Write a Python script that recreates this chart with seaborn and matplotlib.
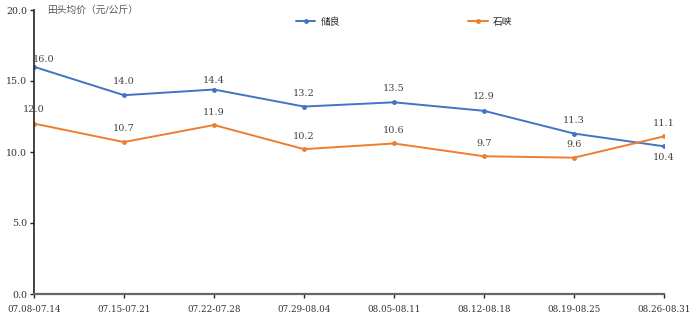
import matplotlib
matplotlib.use("Agg")
import matplotlib.pyplot as plt
import seaborn as sns
import pandas as pd

weeks = ["07.08-07.14", "07.15-07.21", "07.22-07.28", "07.29-08.04",
         "08.05-08.11", "08.12-08.18", "08.19-08.25", "08.26-08.31"]
chuliang = [16.0, 14.0, 14.4, 13.2, 13.5, 12.9, 11.3, 10.4]
shixia = [12.0, 10.7, 11.9, 10.2, 10.6, 9.7, 9.6, 11.1]
series_names = ["储良", "石峡"]
colors = ["#4472C4", "#ED7D31"]
yticks = [0, 5, 10, 15, 20]

sns.set_theme(style="white")
plt.rcParams['font.family'] = ['DejaVu Serif', 'Noto Sans CJK SC']

df = pd.DataFrame({
    "week": weeks * 2,
    "x": list(range(len(weeks))) * 2,
    "price": chuliang + shixia,
    "品种": [series_names[0]] * len(weeks) + [series_names[1]] * len(weeks),
})

fig = plt.figure(figsize=(6.92, 3.30), dpi=100)
ax = fig.add_axes([34/692, 1 - 294/330, (664 - 34)/692, (294 - 10)/330])

sns.lineplot(data=df, x="x", y="price", hue="品种", palette=colors,
             marker="o", markersize=3.5, markeredgewidth=0, linewidth=1.4,
             ax=ax, legend=True)

ax.set_xlim(0, len(weeks) - 1)
ax.set_ylim(0, 20)
ax.set_xticks(range(len(weeks)))
ax.set_xticklabels(weeks, fontsize=6.3, color="#333333")
ax.set_yticks(yticks)
ax.set_yticklabels([f"{v:.1f}" for v in yticks], fontsize=6.8, color="#333333")
ax.set_xlabel("")
ax.set_ylabel("")
ax.tick_params(axis="both", length=3, width=1, direction="out", color="#222222",
               left=True, bottom=True)
ax.tick_params(axis="x", pad=5)
ax.tick_params(axis="y", pad=2)
for s in ["top", "right"]:
    ax.spines[s].set_visible(False)
ax.spines["left"].set_color("#222222")
ax.spines["left"].set_linewidth(1.2)
ax.spines["bottom"].set_color("#666666")
ax.spines["bottom"].set_linewidth(1.6)

px = 72 / 100  # points per pixel
# label offsets in pixels (dx, dy up)
blue_off = [(10, 7), (0, 14), (0, 9), (0, 13), (0, 14), (0, 14), (0, 13), (0, -11)]
orange_off = [(0, 14), (0, 14), (0, 13), (0, 13), (0, 13), (0, 13), (0, 13), (0, 13)]
for i, v in enumerate(chuliang):
    dx, dy = blue_off[i]
    ax.annotate(f"{v:.1f}", (i, v), xytext=(dx * px, dy * px), textcoords="offset points",
                ha="center", va="center", fontsize=7, color="#444444")
for i, v in enumerate(shixia):
    dx, dy = orange_off[i]
    ax.annotate(f"{v:.1f}", (i, v), xytext=(dx * px, dy * px), textcoords="offset points",
                ha="center", va="center", fontsize=7, color="#444444")

ax.text(13/630, 1.0, "田头均价（元/公斤）", transform=ax.transAxes, fontsize=7,
        color="#555555", ha="left", va="center")

handles, labels = ax.get_legend_handles_labels()
ax.legend(handles, labels, loc="center", bbox_to_anchor=((404 - 34)/630, 1 - (22 - 10)/284),
          ncol=2, frameon=False, fontsize=7, columnspacing=13.2, handlelength=2.0,
          handletextpad=0.5)

fig.savefig("out.png", dpi=100)
